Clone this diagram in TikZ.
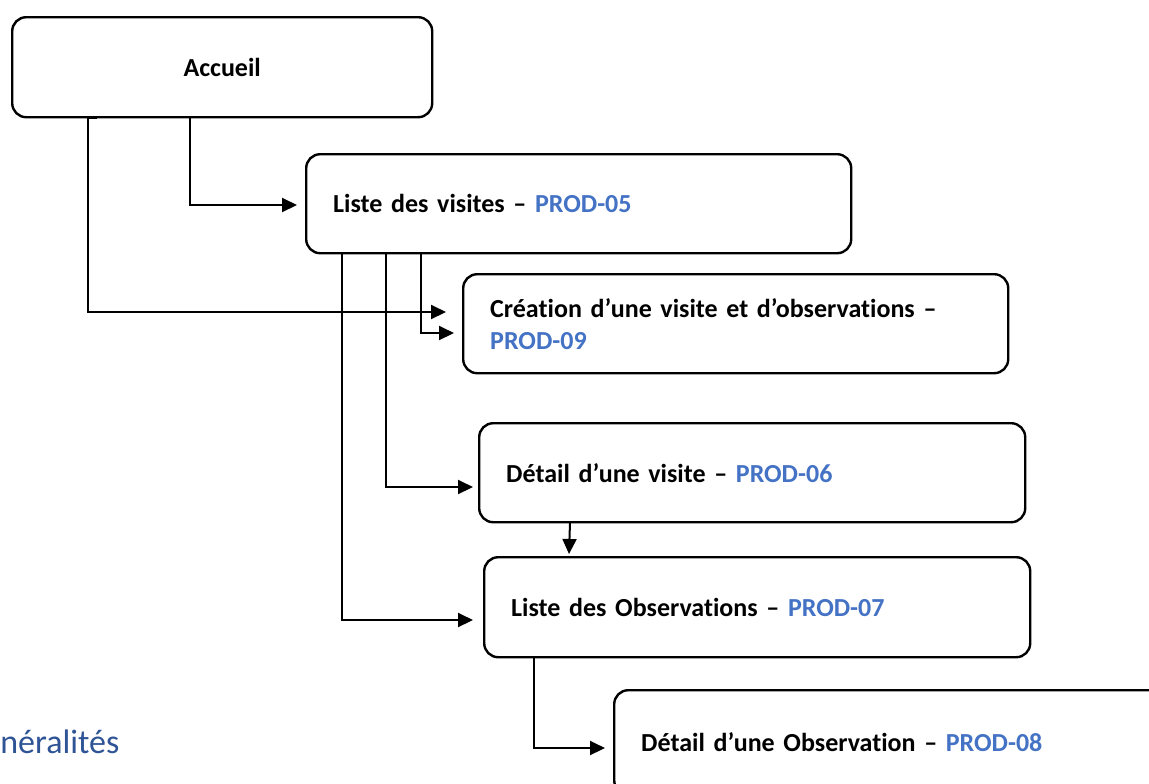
\documentclass[tikz,border=0pt]{standalone}
\usepackage{fontspec}
\setmainfont{Carlito}[Ligatures={NoCommon}]
\usepackage{xcolor}
\usetikzlibrary{arrows.meta}
\definecolor{prodblue}{HTML}{4472C4}
\definecolor{headblue}{HTML}{2F5496}

\begin{document}
\begin{tikzpicture}[x=0.5pt,y=-0.5pt]
\tikzstyle{every node}+=[inner sep=0pt]
\tikzstyle{page}=[draw, line width=1.2pt, rounded corners=7pt, anchor=north west, minimum height=49.5pt, inner xsep=13.5pt, align=left, font=\bfseries\fontsize{13}{16}\selectfont]
\tikzstyle{link}=[line width=1pt, -{Triangle[length=7.5pt,width=7pt]}]
\useasboundingbox (0,0) rectangle (1149,783);
\clip (0,0) rectangle (1149,783);
% pages
\node [page, minimum width=210pt, minimum height=50pt, align=center, inner xsep=0pt] (accueil) at (11,16) {Accueil};
\node [page, text width=245.5pt] (visites) at (305,153) {Liste des visites -- \textcolor{prodblue}{PROD-05}};
\node [page, text width=245.5pt] (creation) at (462,273) {Création d’une visite et d’observations --\\\textcolor{prodblue}{PROD-09}};
\node [page, text width=246pt] (detailvisite) at (478,422) {Détail d’une visite -- \textcolor{prodblue}{PROD-06}};
\node [page, text width=246pt, minimum height=50pt] (observations) at (483,556) {Liste des Observations -- \textcolor{prodblue}{PROD-07}};
\node [page, text width=255pt, minimum height=52pt] (detailobs) at (613,689) {Détail d’une Observation -- \textcolor{prodblue}{PROD-08}};
\node [anchor=base west, text=headblue, font=\fontsize{17}{20}\selectfont] (heading) at (0,753) {néralités};
% links
\coordinate (a0) at (190,116);
\coordinate (a1) at (297,205);
\draw [link] (a0) |- (a1);
\coordinate (b0) at (97,118);
\coordinate (b1) at (88,118);
\coordinate (b2) at (446,312);
\draw [link] (b0) -- (b1) |- (b2);
\coordinate (c0) at (421,252);
\coordinate (c1) at (454,333);
\draw [link] (c0) |- (c1);
\coordinate (d0) at (386,252);
\coordinate (d1) at (473,487);
\draw [link] (d0) |- (d1);
\coordinate (e0) at (342,252);
\coordinate (e1) at (473,620);
\draw [link] (e0) |- (e1);
\coordinate (f0) at (570,522);
\coordinate (f1) at (569,554);
\draw [link] (f0) -- (f1);
\coordinate (g0) at (534,658);
\coordinate (g1) at (605,748);
\draw [link] (g0) |- (g1);
\end{tikzpicture}
\end{document}
